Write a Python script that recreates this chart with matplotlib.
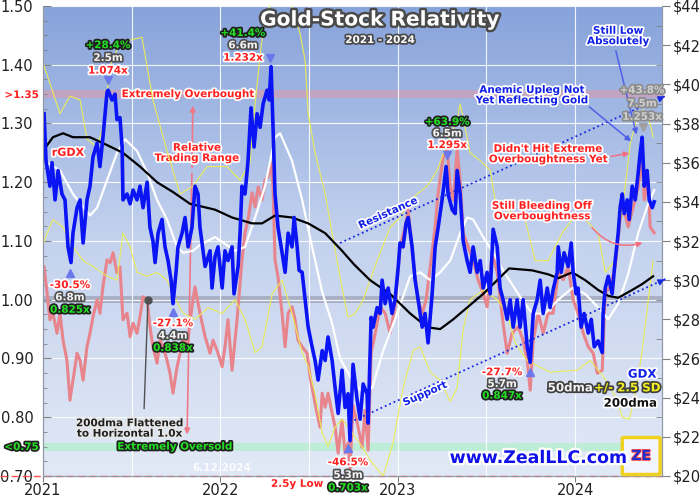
import numpy as np
import matplotlib
matplotlib.use('Agg')
import matplotlib.pyplot as plt
import matplotlib.ticker as ticker
import matplotlib.patheffects as pe
from matplotlib.colors import LinearSegmentedColormap
from matplotlib.patches import FancyBboxPatch

# GDX price (right axis), decimal years
gdx_t = [2021.006, 2021.017, 2021.039, 2021.051, 2021.068, 2021.085, 2021.107, 2021.124, 2021.141, 2021.158,
         2021.169, 2021.192, 2021.209, 2021.226, 2021.248, 2021.265, 2021.282, 2021.305, 2021.321, 2021.338,
         2021.361, 2021.367, 2021.389, 2021.406, 2021.417, 2021.434, 2021.446, 2021.451, 2021.474, 2021.491,
         2021.508, 2021.530, 2021.547, 2021.564, 2021.587, 2021.603, 2021.620, 2021.632, 2021.649, 2021.671,
         2021.688, 2021.705, 2021.722, 2021.733, 2021.750, 2021.761, 2021.784, 2021.801, 2021.818, 2021.840,
         2021.857, 2021.874, 2021.885, 2021.914, 2021.942, 2021.953, 2021.970, 2021.987, 2022.010, 2022.026,
         2022.043, 2022.066, 2022.077, 2022.100, 2022.111, 2022.122, 2022.139, 2022.156, 2022.173, 2022.190,
         2022.207, 2022.224, 2022.241, 2022.263, 2022.275, 2022.286, 2022.297, 2022.308, 2022.325, 2022.348,
         2022.365, 2022.382, 2022.404, 2022.416, 2022.433, 2022.444, 2022.461, 2022.478, 2022.495, 2022.517,
         2022.534, 2022.551, 2022.574, 2022.591, 2022.607, 2022.630, 2022.647, 2022.664, 2022.686, 2022.703,
         2022.720, 2022.731, 2022.748, 2022.771, 2022.788, 2022.805, 2022.827, 2022.833, 2022.850, 2022.861,
         2022.884, 2022.901, 2022.912, 2022.929, 2022.946, 2022.968, 2022.985, 2023.003, 2023.013, 2023.030,
         2023.047, 2023.059, 2023.081, 2023.098, 2023.115, 2023.138, 2023.154, 2023.171, 2023.194, 2023.211,
         2023.228, 2023.250, 2023.273, 2023.284, 2023.307, 2023.324, 2023.335, 2023.352, 2023.369, 2023.391,
         2023.408, 2023.425, 2023.448, 2023.465, 2023.482, 2023.504, 2023.521, 2023.538, 2023.561, 2023.577,
         2023.594, 2023.617, 2023.634, 2023.651, 2023.673, 2023.690, 2023.707, 2023.730, 2023.747, 2023.764,
         2023.786, 2023.803, 2023.820, 2023.843, 2023.859, 2023.876, 2023.899, 2023.905, 2023.922, 2023.938,
         2023.961, 2023.978, 2023.989, 2024.006, 2024.017, 2024.034, 2024.051, 2024.074, 2024.091, 2024.108,
         2024.130, 2024.153, 2024.158, 2024.170, 2024.187, 2024.209, 2024.226, 2024.243, 2024.254, 2024.266,
         2024.277, 2024.294, 2024.305, 2024.322, 2024.339, 2024.356, 2024.367, 2024.378, 2024.390, 2024.406,
         2024.418, 2024.435, 2024.446]
gdx = [38.5, 36.1, 34.8, 36.0, 34.1, 35.6, 34.4, 34.1, 31.7, 30.9,
       32.4, 33.7, 34.1, 31.9, 34.1, 34.8, 36.3, 37.0, 35.8, 37.3,
       39.6, 39.7, 39.2, 39.5, 38.2, 38.3, 36.8, 34.1, 34.4, 33.9,
       34.6, 34.1, 34.8, 33.7, 35.0, 32.7, 32.0, 30.9, 32.4, 33.1,
       31.7, 31.0, 30.0, 28.8, 30.4, 31.7, 32.4, 33.2, 31.7, 32.7,
       34.8, 34.4, 32.7, 30.7, 31.5, 29.6, 31.2, 31.7, 29.6, 31.5,
       31.0, 31.7, 29.3, 30.7, 32.4, 34.8, 34.4, 36.1, 38.8, 36.8,
       38.5, 37.8, 39.0, 39.7, 39.2, 40.9, 37.8, 34.4, 32.7, 31.4,
       30.4, 32.4, 31.7, 33.2, 31.7, 30.5, 30.4, 29.0, 27.6, 26.6,
       25.9, 24.9, 26.4, 25.9, 27.1, 25.9, 24.5, 23.2, 25.4, 23.5,
       24.2, 21.8, 25.7, 23.9, 22.9, 24.7, 24.2, 22.7, 28.1, 27.6,
       28.6, 28.3, 30.0, 28.8, 29.6, 28.3, 29.0, 30.7, 31.9, 31.7,
       32.9, 33.2, 31.7, 30.0, 29.0, 27.6, 28.3, 26.8, 29.3, 31.7,
       32.7, 34.1, 35.8, 34.4, 33.6, 33.4, 35.6, 34.4, 32.0, 31.0,
       30.4, 31.7, 30.4, 31.0, 29.6, 30.4, 29.3, 32.6, 31.7, 29.6,
       29.0, 28.0, 29.0, 27.6, 29.0, 27.6, 29.0, 26.6, 25.8, 28.3,
       29.0, 30.0, 28.3, 29.6, 28.6, 29.5, 30.4, 31.7, 30.4, 31.4,
       30.7, 31.9, 30.4, 29.3, 29.6, 27.6, 28.3, 27.3, 28.0, 26.6,
       26.9, 26.3, 28.3, 29.6, 30.2, 29.3, 31.0, 32.4, 33.7, 34.4,
       33.4, 34.1, 33.1, 34.8, 34.1, 35.5, 36.5, 37.3, 34.8, 35.6,
       34.1, 33.7, 34.0]

# rGDX = GDX / 200dma (left axis)
rgdx_t = [2021.006, 2021.023, 2021.039, 2021.056, 2021.079, 2021.096, 2021.113, 2021.135, 2021.152, 2021.169,
          2021.192, 2021.209, 2021.226, 2021.248, 2021.265, 2021.282, 2021.305, 2021.321, 2021.338, 2021.361,
          2021.378, 2021.395, 2021.417, 2021.434, 2021.451, 2021.474, 2021.491, 2021.508, 2021.530, 2021.547,
          2021.564, 2021.587, 2021.603, 2021.620, 2021.643, 2021.660, 2021.677, 2021.699, 2021.716, 2021.733,
          2021.756, 2021.773, 2021.790, 2021.812, 2021.840, 2021.857, 2021.885, 2021.914, 2021.942, 2021.959,
          2021.987, 2022.010, 2022.026, 2022.043, 2022.066, 2022.094, 2022.122, 2022.139, 2022.156, 2022.179,
          2022.196, 2022.213, 2022.235, 2022.252, 2022.269, 2022.286, 2022.297, 2022.308, 2022.325, 2022.348,
          2022.365, 2022.382, 2022.404, 2022.421, 2022.438, 2022.461, 2022.489, 2022.506, 2022.523, 2022.545,
          2022.562, 2022.574, 2022.591, 2022.607, 2022.630, 2022.647, 2022.664, 2022.686, 2022.703, 2022.720,
          2022.731, 2022.748, 2022.777, 2022.799, 2022.816, 2022.833, 2022.850, 2022.873, 2022.901, 2022.929,
          2022.957, 2022.985, 2023.013, 2023.042, 2023.059, 2023.087, 2023.115, 2023.138, 2023.160, 2023.183,
          2023.211, 2023.228, 2023.256, 2023.279, 2023.296, 2023.313, 2023.335, 2023.352, 2023.369, 2023.397,
          2023.425, 2023.453, 2023.482, 2023.504, 2023.532, 2023.561, 2023.594, 2023.617, 2023.645, 2023.679,
          2023.707, 2023.730, 2023.747, 2023.764, 2023.792, 2023.820, 2023.848, 2023.876, 2023.905, 2023.933,
          2023.961, 2023.989, 2024.017, 2024.046, 2024.074, 2024.102, 2024.125, 2024.153, 2024.170, 2024.198,
          2024.226, 2024.254, 2024.271, 2024.299, 2024.328, 2024.356, 2024.378, 2024.390, 2024.412, 2024.423,
          2024.446]
rgdx = [1.056, 1.011, 0.966, 0.977, 0.943, 0.977, 0.931, 0.897, 0.829, 0.863,
        0.909, 0.897, 0.863, 0.920, 0.943, 0.971, 1.000, 0.977, 1.022, 1.068,
        1.063, 1.080, 1.046, 1.056, 0.966, 0.977, 0.937, 0.960, 0.943, 0.971,
        1.005, 1.000, 0.954, 0.920, 0.892, 0.931, 0.920, 0.897, 0.875, 0.841,
        0.886, 0.909, 0.937, 0.920, 0.988, 1.022, 0.977, 0.937, 0.909, 0.931,
        0.909, 0.886, 0.920, 0.966, 0.880, 0.966, 1.068, 1.114, 1.136, 1.182,
        1.158, 1.192, 1.170, 1.204, 1.209, 1.233, 1.192, 1.068, 1.039, 0.977,
        0.920, 0.977, 0.988, 0.966, 0.931, 0.920, 0.909, 0.869, 0.841, 0.807,
        0.783, 0.841, 0.817, 0.841, 0.807, 0.783, 0.739, 0.795, 0.739, 0.756,
        0.712, 0.820, 0.783, 0.749, 0.812, 0.744, 0.909, 0.943, 0.988, 0.977,
        0.943, 0.988, 1.090, 1.124, 1.153, 1.068, 1.000, 0.977, 1.000, 1.056,
        1.124, 1.182, 1.243, 1.255, 1.192, 1.170, 1.255, 1.204, 1.114, 1.090,
        1.068, 1.034, 1.011, 0.988, 1.080, 1.046, 0.960, 0.909, 0.943, 0.954,
        0.931, 0.897, 0.846, 0.931, 0.977, 0.943, 0.977, 0.977, 1.046, 1.034,
        1.056, 1.000, 0.977, 0.943, 0.920, 0.909, 0.875, 0.880, 1.011, 1.022,
        1.056, 1.136, 1.158, 1.124, 1.158, 1.192, 1.243, 1.170, 1.204, 1.124,
        1.114]

# 50dma
dma50_t = [2021.023, 2021.096, 2021.169, 2021.265, 2021.305, 2021.361, 2021.417, 2021.462, 2021.530, 2021.587,
           2021.643, 2021.699, 2021.756, 2021.790, 2021.846, 2021.885, 2021.970, 2022.083, 2022.139, 2022.196,
           2022.252, 2022.308, 2022.337, 2022.404, 2022.461, 2022.517, 2022.574, 2022.630, 2022.675, 2022.743,
           2022.799, 2022.856, 2022.918, 2022.997, 2023.070, 2023.126, 2023.183, 2023.239, 2023.296, 2023.352,
           2023.391, 2023.425, 2023.482, 2023.538, 2023.594, 2023.679, 2023.758, 2023.831, 2023.905, 2023.984,
           2024.057, 2024.130, 2024.187, 2024.243, 2024.299, 2024.356, 2024.412, 2024.446]
dma50 = [36.0, 35.6, 34.4, 33.3, 33.7, 35.1, 36.5, 37.2, 36.6, 35.5,
         34.1, 33.1, 31.7, 31.4, 31.5, 31.8, 32.2, 31.5, 31.7, 33.2,
         34.8, 37.3, 37.5, 36.1, 34.1, 31.7, 29.4, 27.8, 26.0, 24.9,
         24.3, 24.5, 26.4, 28.3, 30.2, 30.4, 30.0, 30.4, 31.0, 32.4,
         33.2, 33.1, 32.2, 31.4, 30.5, 29.3, 28.3, 28.3, 29.0, 29.6,
         29.3, 28.6, 28.0, 28.8, 30.3, 32.4, 33.9, 34.6]

# 200dma
dma200_t = [2021.000, 2021.056, 2021.113, 2021.169, 2021.265, 2021.361, 2021.451, 2021.547, 2021.643, 2021.733,
            2021.829, 2021.970, 2022.066, 2022.179, 2022.235, 2022.308, 2022.404, 2022.495, 2022.591, 2022.686,
            2022.754, 2022.844, 2022.957, 2023.070, 2023.166, 2023.239, 2023.313, 2023.391, 2023.482, 2023.561,
            2023.628, 2023.758, 2023.848, 2023.905, 2023.984, 2024.057, 2024.130, 2024.187, 2024.243, 2024.322,
            2024.378, 2024.440]
dma200 = [36.6, 37.3, 37.5, 37.3, 37.3, 36.9, 36.5, 35.8, 35.0, 34.5,
          33.9, 33.6, 33.2, 32.9, 32.9, 33.3, 33.2, 32.9, 32.4, 31.5,
          30.8, 30.0, 29.3, 28.3, 27.6, 27.5, 28.0, 28.6, 29.3, 30.0,
          30.6, 30.5, 30.3, 30.1, 30.4, 30.0, 29.5, 29.2, 29.1, 29.5,
          29.8, 30.2]

# 50dma +/- 2.5 SD bands
upper_t = [2021.000, 2021.096, 2021.152, 2021.209, 2021.248, 2021.305, 2021.338, 2021.378, 2021.434, 2021.508,
           2021.558, 2021.587, 2021.620, 2021.699, 2021.773, 2021.846, 2021.925, 2022.038, 2022.111, 2022.167,
           2022.196, 2022.224, 2022.252, 2022.308, 2022.382, 2022.449, 2022.478, 2022.495, 2022.534, 2022.591,
           2022.630, 2022.686, 2022.720, 2022.760, 2022.805, 2022.884, 2022.957, 2023.013, 2023.070, 2023.109,
           2023.166, 2023.222, 2023.279, 2023.335, 2023.352, 2023.380, 2023.408, 2023.465, 2023.521, 2023.549,
           2023.594, 2023.718, 2023.775, 2023.848, 2023.927, 2023.984, 2024.057, 2024.130, 2024.170, 2024.226,
           2024.283, 2024.311, 2024.350, 2024.384, 2024.423, 2024.440]
upper = [41.1, 38.5, 39.4, 39.2, 37.2, 36.8, 37.8, 40.9, 42.1, 42.3,
         42.4, 40.9, 39.2, 36.6, 34.4, 34.8, 35.8, 35.8, 35.1, 36.0,
         39.0, 41.5, 43.5, 44.5, 44.6, 42.6, 41.2, 38.5, 36.5, 34.4,
         32.4, 29.6, 28.1, 28.3, 29.0, 31.0, 32.7, 33.2, 34.1, 34.4,
         34.8, 35.6, 37.0, 38.2, 39.0, 37.8, 36.5, 36.1, 35.6, 34.1,
         33.7, 33.1, 31.0, 31.0, 32.4, 33.1, 33.1, 32.4, 30.4, 31.0,
         34.8, 37.0, 38.3, 38.7, 38.0, 37.3]
lower_t = [2021.000, 2021.023, 2021.056, 2021.113, 2021.169, 2021.226, 2021.282, 2021.361, 2021.417, 2021.451,
           2021.491, 2021.530, 2021.587, 2021.643, 2021.699, 2021.733, 2021.790, 2021.857, 2021.931, 2022.010,
           2022.083, 2022.139, 2022.196, 2022.235, 2022.292, 2022.348, 2022.404, 2022.461, 2022.495, 2022.534,
           2022.574, 2022.607, 2022.647, 2022.686, 2022.743, 2022.799, 2022.844, 2022.918, 2022.974, 2023.030,
           2023.087, 2023.126, 2023.183, 2023.239, 2023.296, 2023.335, 2023.369, 2023.408, 2023.482, 2023.561,
           2023.617, 2023.662, 2023.730, 2023.859, 2024.012, 2024.085, 2024.158, 2024.232, 2024.266, 2024.305,
           2024.345, 2024.378, 2024.418, 2024.440]
lower = [31.8, 32.4, 33.1, 32.7, 31.7, 31.0, 30.7, 30.2, 30.0, 32.4,
         31.7, 30.4, 30.2, 30.4, 30.0, 29.3, 28.3, 28.0, 28.6, 28.3,
         29.0, 28.0, 26.3, 26.6, 29.3, 30.0, 28.3, 26.3, 25.6, 24.2,
         22.2, 21.5, 22.5, 22.9, 22.2, 21.5, 20.8, 20.0, 21.7, 24.5,
         26.4, 26.6, 25.3, 24.9, 23.8, 24.5, 27.5, 29.0, 29.5, 29.0,
         28.3, 26.8, 25.9, 25.3, 25.4, 25.9, 25.1, 24.0, 23.0, 22.9,
         24.4, 26.4, 29.4, 31.0]

# drawn trend channel
resist_t = [2022.675, 2024.519]
resist_p = [31.9, 39.45]
support_t = [2022.731, 2024.519]
support_p = [22.75, 30.1]

years = [2021, 2022, 2023, 2024]

BLUE = '#1020e8'
RED = '#ff2020'
GREEN = '#22e022'


def stroke(c, w=2.5):
    return [pe.withStroke(linewidth=w, foreground=c)]


fig = plt.figure(figsize=(7, 5), dpi=100)
ax = fig.add_axes([43 / 700, 24 / 500, 619 / 700, 470 / 500])
ax2 = ax.twinx()

# background gradient
cmap = LinearSegmentedColormap.from_list('bg', ['#87a3db', '#c4d2ee', '#e2e9f6'])
ax.imshow(np.linspace(0, 1, 256).reshape(-1, 1), cmap=cmap, aspect='auto',
          extent=[0, 1, 0, 1], transform=ax.transAxes, zorder=0.1)

ax.axhspan(1.343, 1.357, color='#c8a2bc', alpha=0.85, lw=0, zorder=0.3)
ax.axhspan(0.994, 1.006, color='#a4aabe', alpha=0.85, lw=0, zorder=0.3)
ax.axhspan(0.743, 0.757, color='#bdeed6', alpha=0.95, lw=0, zorder=0.3)
ax.axhline(0.70, xmin=-0.07, xmax=1, color='#ff5050', lw=1, ls=(0, (5, 3)), clip_on=False, zorder=3)

ax.plot(rgdx_t, rgdx, color='#e8848c', lw=2.2, zorder=2)

ax2.plot(upper_t, upper, color='#eaec58', lw=0.8)
ax2.plot(lower_t, lower, color='#eaec58', lw=0.8)
ax2.plot(dma50_t, dma50, color='white', lw=1.6)
ax2.plot(dma200_t, dma200, color='black', lw=1.6)
ax2.plot(gdx_t, gdx, color='#0a14f5', lw=2.6)

ax2.plot(resist_t, resist_p, ':', color='#1828e0', lw=1.3, clip_on=False)
ax2.plot(support_t, support_p, ':', color='#1828e0', lw=1.3, clip_on=False)
for tt, pp in [(resist_t, resist_p), (support_t, support_p)]:
    ax2.annotate('', xy=(tt[1], pp[1]), xytext=(tt[1] - 0.03, pp[1] - 0.13),
                 arrowprops=dict(arrowstyle='-|>', color='#1828e0', lw=1, mutation_scale=9),
                 annotation_clip=False)

# axes, ticks, grid
ax.set_xlim(2021.0, 2024.49)
ax.set_ylim(0.70, 1.50)
ax2.set_ylim(20, 44)
ax.set_xticks(years)
ax.set_xticklabels([str(y) for y in years])
ax.set_xticks([2021.5, 2022.5, 2023.5], minor=True)
ax.yaxis.set_major_locator(ticker.MultipleLocator(0.1))
ax.yaxis.set_minor_locator(ticker.MultipleLocator(0.025))
ax.yaxis.set_major_formatter(ticker.FormatStrFormatter('%.2f'))
ax2.yaxis.set_major_locator(ticker.MultipleLocator(2))
ax2.yaxis.set_minor_locator(ticker.MultipleLocator(1))
ax2.yaxis.set_major_formatter(ticker.FormatStrFormatter('$%d'))
ax.set_axisbelow(True)
ax.grid(True, which='major', axis='y', color='white', lw=0.8, alpha=0.9)
ax.grid(True, which='both', axis='x', color='white', lw=0.8, alpha=0.9)
ax.tick_params(axis='y', which='major', direction='in', length=6, labelsize=10.5, pad=7, color='#808080', labelcolor='#202020')
ax.tick_params(axis='y', which='minor', direction='in', length=3, color='#808080')
ax.tick_params(axis='x', which='major', direction='out', length=4, labelsize=10.5, pad=1, color='#808080', labelcolor='#202020')
ax.tick_params(axis='x', which='minor', length=0)
ax2.tick_params(axis='y', which='major', direction='out', length=6, labelsize=10.5, pad=2, color='#808080', labelcolor='#202020')
ax2.tick_params(axis='y', which='minor', direction='in', length=4, color='#808080')
for a in (ax, ax2):
    for s in a.spines.values():
        s.set_color('#9098a8')
    a.spines['top'].set_visible(False)

# title
fig.text(0.543, 0.96, 'Gold-Stock Relativity', ha='center', va='center', fontsize=14.5,
         fontweight='bold', color='white', path_effects=stroke('#4a4a4a', 3.5))
fig.text(0.543, 0.92, '2021 - 2024', ha='center', va='center', fontsize=7.5,
         fontweight='bold', color='white', path_effects=stroke('#4a4a4a', 2.5))


def tag(x, y, s, c, edge, size=7.5, a=None, **kw):
    a = a or ax2
    a.text(x, y, s, color=c, fontsize=size, fontweight='bold', ha='center', va='center',
           path_effects=stroke(edge), zorder=6, linespacing=1.05, **kw)


def stats(x, y0, dy, pct, mon, mult, up=True, gray=False):
    cols = [GREEN, '#f4f4f4', RED] if up else [RED, '#f4f4f4', GREEN]
    edges = ['#202020', '#505050', 'white'] if up else ['white', '#505050', '#202020']
    if gray:
        cols = ['#d0d0d0'] * 3
        edges = ['#8c8c8c'] * 3
    for i, (s, c, e) in enumerate(zip([pct, mon, mult], cols, edges)):
        tag(x, y0 - i * dy, s, c, e)


mk = dict(ls='none', ms=6, color='#6a78ec', clip_on=False, zorder=6)
ax2.plot([2021.367], [40.2], marker='v', **mk)
stats(2021.367, 42.0, 0.65, '+28.4%', '2.5m', '1.074x')
ax2.plot([2022.28], [41.35], marker='v', **mk)
stats(2022.128, 42.62, 0.63, '+41.4%', '6.6m', '1.232x')
ax2.plot([2023.279], [36.4], marker='v', **mk)
stats(2023.279, 38.08, 0.59, '+63.9%', '6.5m', '1.295x')
ax2.plot([2024.384], [37.8], marker='v', ls='none', ms=6, color='#a0a0a0', zorder=6)
stats(2024.378, 39.7, 0.68, '+43.8%', '7.5m', '1.253x', gray=True)

ax2.plot([2021.152], [30.36], marker='^', **mk)
stats(2021.152, 29.75, 0.63, '-30.5%', '6.8m', '0.825x', up=False)
ax2.plot([2021.733], [28.37], marker='^', **mk)
stats(2021.733, 27.8, 0.63, '-27.1%', '4.4m', '0.838x', up=False)
ax2.plot([2022.72], [21.43], marker='^', **mk)
stats(2022.72, 20.7, 0.65, '-46.5%', '5.3m', '0.703x', up=False)
ax2.plot([2023.747], [25.3], marker='^', **mk)
stats(2023.589, 25.3, 0.6, '-27.7%', '5.7m', '0.847x', up=False)
tag(2022.433, 19.6, '2.5y Low', RED, 'white')

# relative-range labels on the rGDX axis
fig.text(0.031, 0.81, '>1.35', color=RED, fontsize=7.5, fontweight='bold', ha='center', va='center',
         path_effects=stroke('white'))
fig.text(0.031, 0.106, '<0.75', color=GREEN, fontsize=7.5, fontweight='bold', ha='center', va='center',
         path_effects=stroke('#202020'))
tag(2021.818, 1.35, 'Extremely Overbought', RED, 'white', a=ax)
tag(2021.744, 0.75, 'Extremely Oversold', GREEN, '#202020', a=ax)
tag(2021.141, 1.25, 'rGDX', RED, 'white', size=8, a=ax)
ax.annotate('', xy=(2021.845, 1.335), xytext=(2021.84, 1.22),
            arrowprops=dict(arrowstyle='-|>', color='#f07888', lw=1.2, mutation_scale=8), zorder=5)
ax.annotate('', xy=(2021.812, 0.766), xytext=(2021.84, 1.22),
            arrowprops=dict(arrowstyle='-|>', color='#f07888', lw=1.2, mutation_scale=8), zorder=5)
tag(2021.869, 1.25, 'Relative\nTrading Range', RED, 'white', a=ax)
ax.plot([2021.57, 2021.592], [0.815, 1.0], color='#505050', lw=1, zorder=5)
ax.plot([2021.592], [1.0], 'o', color='#505050', ms=5, zorder=5)
tag(2021.49, 0.781, '200dma Flattened\nto Horizontal 1.0x', '#202020', '#e8e8e8', a=ax)

tag(2022.946, 33.43, 'Resistance', BLUE, 'white', rotation=24.5)
tag(2023.154, 24.2, 'Support', BLUE, 'white', rotation=24)

arr_b = dict(arrowstyle='-|>', color='#5060e8', lw=1.1, mutation_scale=8)
arr_r = dict(arrowstyle='-|>', color='#f07080', lw=1.1, mutation_scale=8)
ax2.annotate('', xy=(2024.328, 37.0), xytext=(2024.068, 38.94), arrowprops=arr_b, zorder=5)
ax2.annotate('', xy=(2024.35, 37.3), xytext=(2024.226, 41.85), arrowprops=arr_b, zorder=5)
ax2.annotate('', xy=(2024.322, 36.5), xytext=(2024.187, 36.3), arrowprops=arr_r, zorder=5)
ax2.annotate('', xy=(2024.395, 31.95), xytext=(2024.085, 32.8),
             arrowprops=dict(arr_r, connectionstyle='arc3,rad=0.35'), zorder=5)
tag(2023.758, 39.45, 'Anemic Upleg Not\nYet Reflecting Gold', BLUE, 'white')
tag(2024.243, 42.47, 'Still Low\nAbsolutely', BLUE, 'white')
tag(2023.848, 36.44, "Didn't Hit Extreme\nOverboughtness Yet", RED, 'white')
tag(2023.814, 33.53, 'Still Bleeding Off\nOverboughtness', RED, 'white')

# series legend
tag(2024.378, 25.2, 'GDX', BLUE, 'white', size=8.5)
tag(2023.972, 24.5, '50dma', '#f4f4f4', '#404040', size=8.5)
tag(2024.294, 24.5, '+/- 2.5 SD', '#f4f020', '#404040', size=8.5)
tag(2024.31, 23.72, '200dma', '#101010', 'white', size=8.5)

ax2.text(2022.01, 20.4, '6.12.2024', color='white', fontsize=7.5, fontweight='bold', alpha=0.9,
         ha='center', va='center', zorder=6)

fig.text(0.769, 0.084, 'www.ZealLLC.com', color='#1010e8', fontsize=12.5, fontweight='bold',
         ha='center', va='center', path_effects=stroke('white', 3.5))
fig.patches.append(FancyBboxPatch((0.891, 0.053), 0.05, 0.07, boxstyle='round,pad=0.002',
                                  transform=fig.transFigure, fc='#f4f4ff', ec='#f0d020', lw=2.5))
fig.text(0.916, 0.088, 'ZE', color='#2030d0', fontsize=10, fontweight='bold', ha='center', va='center',
         path_effects=stroke('#ff4040', 1.2))

fig.savefig('out.png', dpi=100)
